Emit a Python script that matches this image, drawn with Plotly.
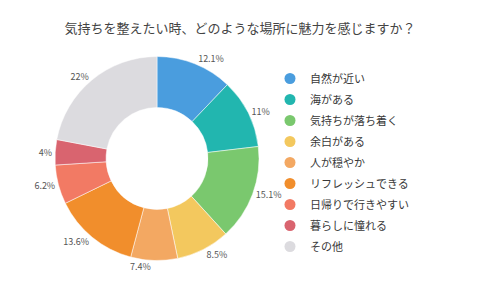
import plotly.graph_objects as go

labels = ["自然が近い", "海がある", "気持ちが落ち着く", "余白がある", "人が穏やか",
          "リフレッシュできる", "日帰りで行きやすい", "暮らしに憧れる", "その他"]
values = [12.1, 11, 15.1, 8.5, 7.4, 13.6, 6.2, 4, 22]
colors = ["#4A9DDE", "#22B6AF", "#7AC86E", "#F3C85E", "#F3A862",
          "#F18E2C", "#F27A64", "#D9646F", "#DCDBDF"]

W, H = 480, 288
FONT = "Noto Sans CJK JP"

fig = go.Figure()
fig.add_trace(go.Pie(
    labels=labels, values=values, hole=0.5, sort=False, direction="clockwise",
    rotation=0, marker=dict(colors=colors, line=dict(color="white", width=0.5)),
    textposition="outside", texttemplate="%{value}%",
    textfont=dict(size=9, color="#555555", family=FONT),
    showlegend=False, domain=dict(x=[55/W, 259/W], y=[1-261/H, 1-56/H]),
    hoverinfo="label+percent",
))
for i, (lab, col) in enumerate(zip(labels, colors)):
    fig.add_trace(go.Scatter(x=[None], y=[None], mode="markers", name=lab,
                             legendgroup=f"g{i}",
                             marker=dict(symbol="circle", size=11, color=col)))

fig.update_layout(
    width=W, height=H, margin=dict(l=0, r=0, t=0, b=0),
    paper_bgcolor="white", plot_bgcolor="white",
    title=dict(text="気持ちを整えたい時、どのような場所に魅力を感じますか？",
               x=0.5, xanchor="center", y=1-28/H, yanchor="middle",
               font=dict(size=13, color="#444444", family=FONT)),
    legend=dict(x=270/W, y=1-64/H, xanchor="left", yanchor="top",
                bgcolor="rgba(0,0,0,0)",
                font=dict(size=11, color="#383838", family=FONT),
                itemwidth=30, tracegroupgap=2),
    xaxis=dict(visible=False), yaxis=dict(visible=False),
)
fig.write_html("out.html")
